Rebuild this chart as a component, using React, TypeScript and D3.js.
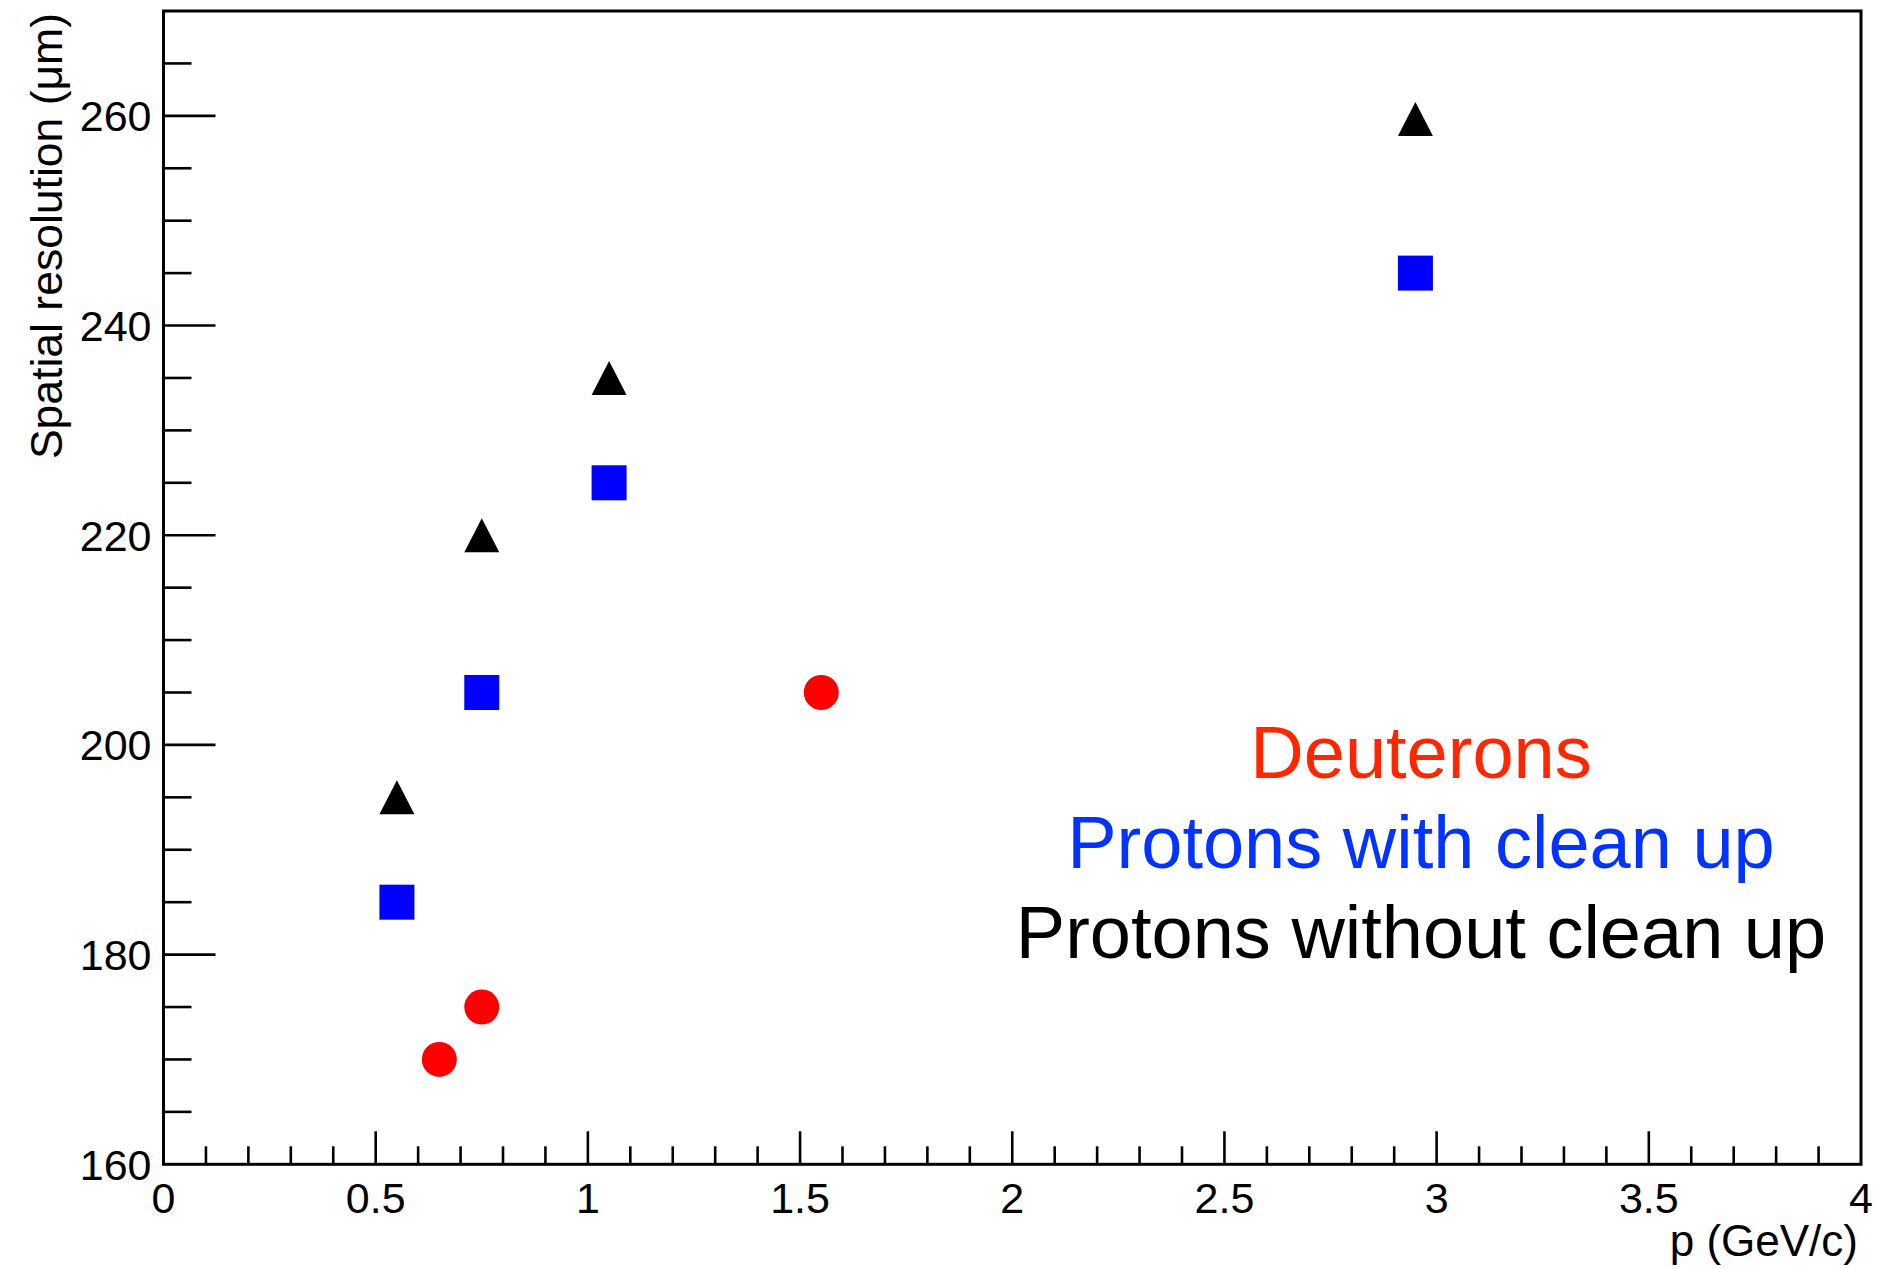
import React from "react";
import * as d3 from "d3";

const W = 1878;
const H = 1269;

// Data
const deuteronP = [0.65, 0.75, 1.55];
const deuteronRes = [170, 175, 205];
const protonCleanP = [0.55, 0.75, 1.05, 2.95];
const protonCleanRes = [185, 205, 225, 245];
const protonRawP = [0.55, 0.75, 1.05, 2.95];
const protonRawRes = [195, 220, 235, 259.7];

const xTickLabels = ["0", "0.5", "1", "1.5", "2", "2.5", "3", "3.5", "4"];
const yTickLabels = ["160", "180", "200", "220", "240", "260"];
const legendLabels = ["Deuterons", "Protons with clean up", "Protons without clean up"];
const legendColors = ["#ff2600", "#0433ff", "#000000"];

const xDomain = [0, 4];
const yDomain = [160, 270];

export default function App() {
  const left = 163.5;
  const right = 1861;
  const top = 11;
  const bottom = 1164.3;
  const x = d3.scaleLinear().domain(xDomain).range([left, right]);
  const y = d3.scaleLinear().domain(yDomain).range([bottom, top]);

  const xMinor = d3.range(0, 40 + 1).map((i) => i / 10);
  const yMinor = d3.range(160, 271, 5);

  const font = "'Liberation Sans', Arial, Helvetica, sans-serif";
  const ms = 35;

  const triPath = (cx: number, cy: number) => {
    const h = 34;
    const w = 35;
    return `M${cx},${cy - h / 2}L${cx + w / 2},${cy + h / 2}L${cx - w / 2},${cy + h / 2}Z`;
  };

  return (
    <svg
      width={W}
      height={H}
      style={{ position: "absolute", left: 0, top: 0, background: "#fff" }}
      fontFamily={font}
    >
      <rect x={0} y={0} width={W} height={H} fill="#fff" />
      {/* x ticks */}
      {xMinor.map((v, i) => {
        const major = i % 5 === 0;
        if (i === 0 || i === 40) return null;
        return (
          <line
            key={"xt" + i}
            x1={x(v)}
            x2={x(v)}
            y1={bottom}
            y2={bottom - (major ? 33 : 18)}
            stroke="#000"
            strokeWidth={2.6}
          />
        );
      })}
      {/* y ticks */}
      {yMinor.map((v, i) => {
        const major = (v - 160) % 20 === 0;
        if (v === 160 || v === 270) return null;
        return (
          <line
            key={"yt" + i}
            x1={left}
            x2={left + (major ? 52 : 28)}
            y1={y(v)}
            y2={y(v)}
            stroke="#000"
            strokeWidth={2.6}
          />
        );
      })}
      {/* frame */}
      <rect
        x={left}
        y={top}
        width={right - left}
        height={bottom - top}
        fill="none"
        stroke="#000"
        strokeWidth={3}
      />
      {/* x tick labels */}
      {xTickLabels.map((t) => (
        <text
          key={"xl" + t}
          x={x(+t)}
          y={1213}
          fontSize={43}
          textAnchor="middle"
          fill="#000"
        >
          {t}
        </text>
      ))}
      {/* y tick labels */}
      {yTickLabels.map((t) => (
        <text
          key={"yl" + t}
          x={151.5}
          y={y(+t) + 15.5}
          fontSize={43}
          textAnchor="end"
          fill="#000"
        >
          {t}
        </text>
      ))}
      {/* axis titles */}
      <text x={1858} y={1256} fontSize={44} textAnchor="end" fill="#000">
        p (GeV/c)
      </text>
      <text
        transform={`translate(62,13) rotate(-90)`}
        fontSize={44.5}
        textAnchor="end"
        fill="#000"
      >
        Spatial resolution (μm)
      </text>
      {/* markers */}
      {protonRawP.map((p, i) => (
        <path key={"tr" + i} d={triPath(x(p), y(protonRawRes[i]))} fill="#000" />
      ))}
      {protonCleanP.map((p, i) => (
        <rect
          key={"sq" + i}
          x={x(p) - ms / 2}
          y={y(protonCleanRes[i]) - ms / 2}
          width={ms}
          height={ms}
          fill="#0000ff"
        />
      ))}
      {deuteronP.map((p, i) => (
        <circle key={"ci" + i} cx={x(p)} cy={y(deuteronRes[i])} r={ms / 2} fill="#ff0000" />
      ))}
      {/* legend text */}
      {legendLabels.map((l, i) => (
        <text
          key={"lg" + i}
          x={1421}
          y={778 + i * 90}
          fontSize={74}
          textAnchor="middle"
          fill={legendColors[i]}
        >
          {l}
        </text>
      ))}
    </svg>
  );
}
